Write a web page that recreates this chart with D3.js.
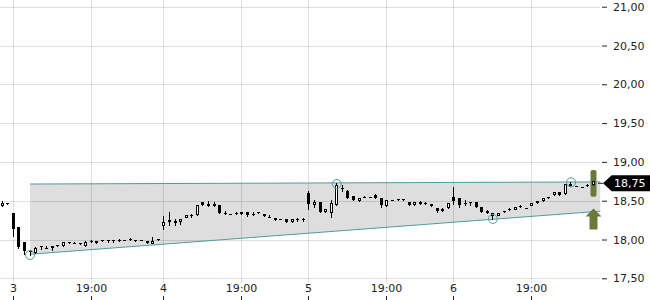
<!DOCTYPE html>
<html>
<head>
<meta charset="utf-8">
<script src="https://cdn.jsdelivr.net/npm/d3@7"></script>
<style>
body { margin: 0; background: #fff; }
svg text { font-family: "DejaVu Sans", sans-serif; font-size: 11px; }
</style>
</head>
<body>
<div id="chart"></div>
<script>
// candles, one entry per time slot
var openV = [18.43, 18.465, 18.34, 18.16, 17.97, 17.85, 17.83, 17.91, 17.895, 17.91,
	17.93, 17.91, 17.965, 17.955, 17.96, 17.92, 17.975, 17.98, 17.99, 17.995,
	17.99, 17.99, 18.00, 18.005, 18.00, 17.995, 17.98, 17.955, 18.005, 18.17,
	18.25, 18.24, 18.22, 18.29, 18.31, 18.31, 18.48, 18.46, 18.46, 18.45,
	18.34, 18.33, 18.34, 18.35, 18.35, 18.335, 18.35, 18.33, 18.29, 18.28,
	18.27, 18.26, 18.23, 18.26, 18.26, 18.60, 18.44, 18.48, 18.35, 18.34,
	18.45, 18.66, 18.62, 18.56, 18.50, 18.55, 18.55, 18.57, 18.53, 18.43,
	18.51, 18.52, 18.525, 18.48, 18.45, 18.48, 18.47, 18.46, 18.41, 18.39,
	18.41, 18.55, 18.53, 18.475, 18.48, 18.48, 18.42, 18.37, 18.34, 18.32,
	18.37, 18.39, 18.39, 18.43, 18.41, 18.44, 18.49, 18.49, 18.55, 18.57,
	18.61, 18.59, 18.72, 18.69, 18.68, 18.70, 18.70];
var highV = [18.49, 18.465, 18.34, 18.16, 17.97, 17.87, 17.90, 17.91, 17.92, 17.91,
	17.93, 17.97, 17.965, 17.97, 17.96, 17.98, 17.99, 17.98, 17.99, 17.995,
	17.99, 18.01, 18.00, 18.02, 18.00, 17.995, 17.985, 18.03, 18.005, 18.30,
	18.35, 18.27, 18.27, 18.32, 18.33, 18.44, 18.48, 18.49, 18.48, 18.45,
	18.37, 18.33, 18.36, 18.35, 18.35, 18.35, 18.36, 18.33, 18.31, 18.28,
	18.27, 18.26, 18.26, 18.28, 18.28, 18.63, 18.51, 18.48, 18.39, 18.51,
	18.73, 18.70, 18.64, 18.56, 18.54, 18.56, 18.55, 18.59, 18.53, 18.51,
	18.51, 18.52, 18.525, 18.48, 18.48, 18.49, 18.48, 18.46, 18.41, 18.41,
	18.47, 18.68, 18.53, 18.51, 18.48, 18.48, 18.42, 18.38, 18.34, 18.34,
	18.37, 18.40, 18.42, 18.45, 18.41, 18.47, 18.49, 18.53, 18.55, 18.61,
	18.61, 18.72, 18.74, 18.69, 18.68, 18.71, 18.75];
var lowV = [18.43, 18.46, 18.05, 17.89, 17.81, 17.80, 17.83, 17.88, 17.89, 17.87,
	17.91, 17.91, 17.955, 17.95, 17.94, 17.91, 17.97, 17.96, 17.98, 17.97,
	17.97, 17.985, 17.99, 17.99, 17.985, 17.99, 17.96, 17.955, 18.00, 18.14,
	18.19, 18.19, 18.20, 18.29, 18.29, 18.31, 18.45, 18.43, 18.43, 18.34,
	18.335, 18.325, 18.33, 18.33, 18.30, 18.31, 18.34, 18.30, 18.285, 18.25,
	18.265, 18.23, 18.23, 18.24, 18.24, 18.39, 18.42, 18.35, 18.35, 18.29,
	18.45, 18.62, 18.54, 18.51, 18.50, 18.545, 18.545, 18.53, 18.42, 18.43,
	18.505, 18.515, 18.515, 18.45, 18.45, 18.46, 18.46, 18.43, 18.35, 18.37,
	18.41, 18.46, 18.42, 18.44, 18.44, 18.42, 18.36, 18.34, 18.27, 18.32,
	18.35, 18.38, 18.39, 18.425, 18.405, 18.44, 18.47, 18.49, 18.53, 18.57,
	18.57, 18.59, 18.69, 18.685, 18.675, 18.69, 18.70];
var closeV = [18.47, 18.46, 18.13, 17.90, 17.85, 17.84, 17.89, 17.90, 17.89, 17.89,
	17.91, 17.97, 17.955, 17.95, 17.94, 17.97, 17.97, 17.96, 17.98, 17.985,
	17.985, 17.985, 17.99, 18.00, 17.985, 17.99, 17.96, 17.985, 18.00, 18.23,
	18.22, 18.21, 18.27, 18.32, 18.305, 18.44, 18.45, 18.43, 18.43, 18.34,
	18.335, 18.325, 18.33, 18.33, 18.32, 18.33, 18.34, 18.30, 18.285, 18.25,
	18.265, 18.23, 18.26, 18.255, 18.255, 18.46, 18.48, 18.35, 18.39, 18.47,
	18.70, 18.65, 18.54, 18.51, 18.54, 18.545, 18.545, 18.53, 18.45, 18.51,
	18.505, 18.515, 18.515, 18.45, 18.48, 18.46, 18.46, 18.43, 18.37, 18.37,
	18.47, 18.50, 18.45, 18.47, 18.47, 18.42, 18.36, 18.34, 18.30, 18.34,
	18.35, 18.38, 18.42, 18.425, 18.405, 18.47, 18.47, 18.53, 18.53, 18.61,
	18.57, 18.72, 18.69, 18.685, 18.675, 18.69, 18.75];

// x axis: slot index of each tick and its label
var xTickIdx = [2, 16, 29, 43, 55, 69, 81, 95];
var xTickLabels = ["3", "19:00", "4", "19:00", "5", "19:00", "6", "19:00"];

// y axis ticks
var yTicks = [17.5, 18, 18.5, 19, 19.5, 20, 20.5, 21];

// trend channel (start / end slot and values)
var channelIdx = [5, 107.25];
var channelTop = [18.715, 18.742];
var channelBottom = [17.81, 18.365];

// pivot circles
var pivotIdx = [5, 60, 88, 102];
var pivotVal = [17.80, 18.715, 18.265, 18.737];

// signal markers on the last slot
var signalIdx = 106;
var signalBar = [18.552, 18.896];
var signalArrow = [18.13, 18.40];

var width = 650, height = 300;
var teal = "#4f9c9e", olive = "#6b7a38";

var fmt = d3.formatLocale({decimal: ",", thousands: ".", grouping: [3], currency: ["", ""]}).format(".2f");

var x = d3.scaleLinear().domain([0, 106]).range([2.15, 593.3]);
var y = d3.scaleLinear().domain([17.5, 21]).range([278.3, 6.7]);

var svg = d3.select("#chart").append("svg")
	.attr("width", width)
	.attr("height", height);

// channel fill first, grid goes over it
var chan = d3.range(2).map(function (i) {
	return {i: channelIdx[i], top: channelTop[i], bot: channelBottom[i]};
});
svg.append("path")
	.datum(chan)
	.attr("fill", "#dedede")
	.attr("d", d3.area()
		.x(function (d) { return x(d.i); })
		.y0(function (d) { return y(d.bot); })
		.y1(function (d) { return y(d.top); }));

// grid
var grid = svg.append("g")
	.attr("stroke", "#000")
	.attr("stroke-opacity", 0.12)
	.attr("shape-rendering", "crispEdges");
grid.selectAll("line.h").data(yTicks).enter().append("line")
	.attr("class", "h")
	.attr("x1", 0)
	.attr("x2", 600)
	.attr("y1", function (d) { return Math.round(y(d)) + 0.5; })
	.attr("y2", function (d) { return Math.round(y(d)) + 0.5; });
grid.selectAll("line.v").data(xTickIdx).enter().append("line")
	.attr("class", "v")
	.attr("x1", function (d) { return Math.floor(x(d)) + 0.5; })
	.attr("x2", function (d) { return Math.floor(x(d)) + 0.5; })
	.attr("y1", 0)
	.attr("y2", 283);

// channel lines
["top", "bot"].forEach(function (k) {
	svg.append("path")
		.datum(chan)
		.attr("fill", "none")
		.attr("stroke", teal)
		.attr("stroke-width", 1)
		.attr("d", d3.line()
			.x(function (d) { return x(d.i); })
			.y(function (d) { return y(d[k]); }));
});

// signal bar + arrow (behind last candle)
var sx = Math.floor(x(signalIdx)) + 0.5;
svg.append("rect")
	.attr("x", sx - 3)
	.attr("y", y(signalBar[1]))
	.attr("width", 6)
	.attr("height", y(signalBar[0]) - y(signalBar[1]))
	.attr("rx", 2)
	.attr("fill", olive);
var tipY = y(signalArrow[1]), baseY = y(signalArrow[0]);
svg.append("path")
	.attr("fill", olive)
	.attr("d", "M" + sx + "," + tipY +
		"L" + (sx + 8) + "," + (tipY + 8) +
		"L" + (sx + 4) + "," + (tipY + 8) +
		"L" + (sx + 4) + "," + baseY +
		"L" + (sx - 4) + "," + baseY +
		"L" + (sx - 4) + "," + (tipY + 8) +
		"L" + (sx - 8) + "," + (tipY + 8) + "Z");

// candles
var candles = d3.range(openV.length).map(function (i) {
	var top = Math.round(y(Math.max(openV[i], closeV[i])));
	var h = Math.max(1, Math.round(y(Math.min(openV[i], closeV[i]))) - top);
	var up = closeV[i] > openV[i];
	if (up && h < 3) { top = top - (3 - h > 1 ? 1 : 0); h = 3; }
	return {i: i, o: openV[i], h: highV[i], l: lowV[i], c: closeV[i],
		col: Math.floor(x(i)), top: top, bh: h, up: up};
});

var cg = svg.append("g").attr("shape-rendering", "crispEdges");
cg.selectAll("line").data(candles).enter().append("line")
	.attr("x1", function (d) { return d.col + 0.5; })
	.attr("x2", function (d) { return d.col + 0.5; })
	.attr("y1", function (d) { return Math.round(y(d.h)); })
	.attr("y2", function (d) { return Math.round(y(d.l)) + 1; })
	.attr("stroke", "#000");
cg.selectAll("rect.dn").data(candles.filter(function (d) { return !d.up; })).enter().append("rect")
	.attr("class", "dn")
	.attr("x", function (d) { return d.col - 1; })
	.attr("y", function (d) { return d.top; })
	.attr("width", 3)
	.attr("height", function (d) { return d.bh; })
	.attr("fill", "#000");
cg.selectAll("rect.up").data(candles.filter(function (d) { return d.up; })).enter().append("rect")
	.attr("class", "up")
	.attr("x", function (d) { return d.col - 0.5; })
	.attr("y", function (d) { return d.top + 0.5; })
	.attr("width", 2)
	.attr("height", function (d) { return d.bh - 1; })
	.attr("fill", "#fff")
	.attr("stroke", "#000");

// pivot circles
svg.selectAll("circle.pivot").data(pivotIdx).enter().append("circle")
	.attr("class", "pivot")
	.attr("cx", function (d) { return x(d); })
	.attr("cy", function (d, i) { return y(pivotVal[i]); })
	.attr("r", 4.5)
	.attr("fill", "none")
	.attr("stroke", teal);

// right axis
var yAxis = svg.append("g")
	.attr("transform", "translate(602,0)")
	.style("color", "#222")
	.call(d3.axisRight(y).tickValues(yTicks).tickFormat(fmt).tickSize(5).tickPadding(6));
yAxis.select(".domain").remove();
yAxis.selectAll("text").attr("font-family", "DejaVu Sans").attr("font-size", 11);

// bottom axis (labels above small tick marks)
var xAxis = svg.append("g")
	.attr("transform", "translate(0,300)")
	.style("color", "#222")
	.call(d3.axisTop(x).tickValues(xTickIdx)
		.tickFormat(function (d, i) { return xTickLabels[i]; })
		.tickSize(4).tickPadding(4));
xAxis.select(".domain").remove();
xAxis.selectAll("text").attr("font-family", "DejaVu Sans").attr("font-size", 11);
xAxis.selectAll(".tick").attr("transform", function (d) {
	return "translate(" + (Math.floor(x(d)) + 0.5) + ",0)";
});

// last price label
var lastClose = closeV[closeV.length - 1];
var ly = y(lastClose) + 2;
svg.append("line")
	.attr("x1", 598).attr("x2", 603)
	.attr("y1", ly).attr("y2", ly)
	.attr("stroke", "#222");
svg.append("path")
	.attr("fill", "#000")
	.attr("d", "M603," + ly + "L611.7," + (ly - 8) + "L650," + (ly - 8) +
		"L650," + (ly + 8) + "L611.7," + (ly + 8) + "Z");
svg.append("text")
	.attr("x", 614)
	.attr("y", ly)
	.attr("dy", "0.35em")
	.attr("fill", "#fff")
	.text(fmt(lastClose));
</script>
</body>
</html>
